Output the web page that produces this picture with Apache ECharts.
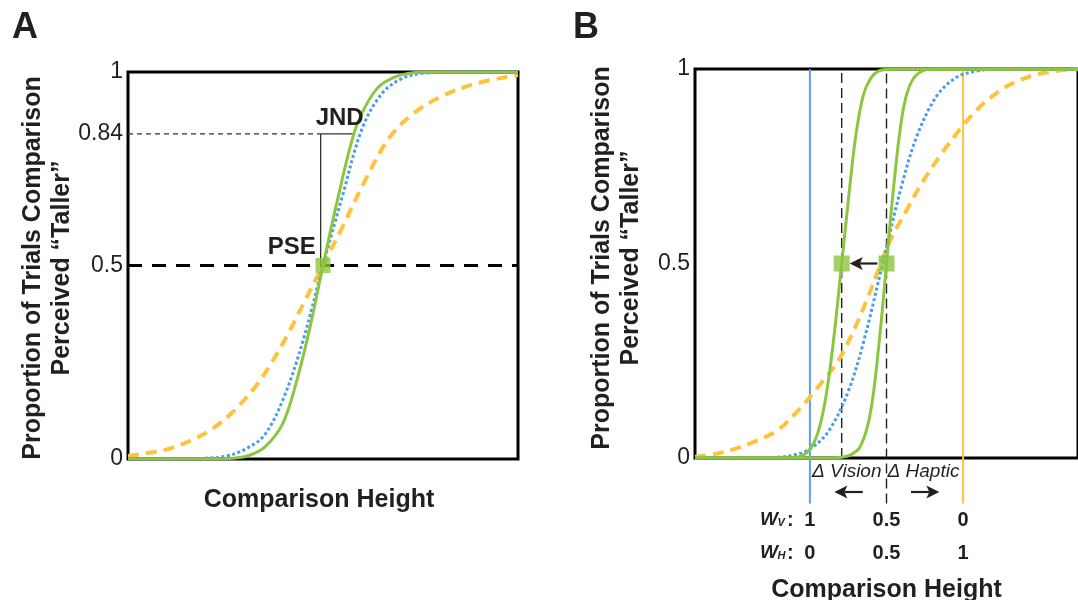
<!DOCTYPE html>
<html>
<head>
<meta charset="utf-8">
<script src="https://cdn.jsdelivr.net/npm/echarts@6/dist/echarts.min.js"></script>
<style>
  html, body { margin: 0; padding: 0; background: #fff; }
  #chart { width: 1078px; height: 600px; }
</style>
</head>
<body>
<div id="chart"></div>
<script>
// ---- Panel A: one comparison, three psychometric functions ----
const aHaptic = [[0,0.008],[0.1,0.025],[0.166,0.05],[0.219,0.08],[0.272,0.125],[0.325,0.185],[0.369,0.25],[0.414,0.33],[0.449,0.4],[0.5,0.5],[0.55,0.6],[0.608,0.72],[0.67,0.83],[0.732,0.893],[0.802,0.936],[0.891,0.97],[1,0.992]];
const aVision = [[0,0],[0.15,0],[0.2,0.002],[0.25,0.007],[0.3,0.025],[0.35,0.062],[0.4,0.16],[0.45,0.31],[0.5,0.5],[0.55,0.68],[0.6,0.853],[0.65,0.943],[0.7,0.982],[0.75,0.996],[0.8,0.999],[0.86,1],[1,1]];
const aCombined = [[0,0],[0.22,0],[0.27,0.002],[0.31,0.009],[0.352,0.032],[0.396,0.09],[0.431,0.196],[0.467,0.342],[0.5,0.5],[0.537,0.669],[0.579,0.84],[0.608,0.91],[0.643,0.962],[0.687,0.988],[0.731,0.998],[0.78,1],[1,1]];
const yTicksA = [0, 0.5, 0.84, 1];
const pseA = [0.5, 0.5];
const jndLevel = 0.84;
const jndBracketX = 0.494;
const jndCurveX = 0.579;

// ---- Panel B: cue weighting shifts the combined estimate ----
const bHaptic = [[0,0.003],[0.05,0.01],[0.1,0.022],[0.165,0.046],[0.217,0.072],[0.27,0.123],[0.322,0.183],[0.375,0.252],[0.42,0.34],[0.45,0.41],[0.485,0.5],[0.515,0.57],[0.557,0.645],[0.591,0.705],[0.642,0.78],[0.68,0.83],[0.697,0.852],[0.744,0.903],[0.79,0.94],[0.829,0.963],[0.888,0.985],[0.957,0.997],[1,1]];
const bVision = [[0,0],[0.15,0],[0.2,0.001],[0.25,0.006],[0.3,0.023],[0.35,0.071],[0.4,0.171],[0.44,0.298],[0.49,0.5],[0.54,0.702],[0.58,0.829],[0.63,0.929],[0.68,0.977],[0.73,0.994],[0.78,0.999],[0.85,1],[1,1]];
const bCombinedShifted = [[0,0],[0.22,0],[0.26,0.001],[0.28,0.006],[0.3,0.022],[0.32,0.062],[0.34,0.147],[0.36,0.288],[0.383,0.5],[0.4,0.66],[0.42,0.83],[0.44,0.935],[0.46,0.978],[0.48,0.995],[0.5,0.999],[0.53,1],[1,1]];
const bCombinedEqual = [[0,0],[0.36,0],[0.39,0.003],[0.41,0.01],[0.43,0.027],[0.45,0.08],[0.465,0.16],[0.48,0.29],[0.49,0.39],[0.5,0.5],[0.51,0.61],[0.52,0.71],[0.535,0.84],[0.55,0.925],[0.57,0.975],[0.6,0.997],[0.63,1],[1,1]];
const yTicksB = [0, 0.5, 1];
const visionOnly = 0.3;
const hapticOnly = 0.7;
const equalWeights = 0.5;
const shiftedPSE = 0.383;
const weightPositions = [0.3, 0.5, 0.7];
const weightVision = ['1', '0.5', '0'];
const weightHaptic = ['0', '0.5', '1'];
const lineFloorB = -0.117;

const GREEN = '#8cc63f';
const BLUE = '#4a9cec';
const ORANGE = '#fdc23e';
const INK = '#231f20';
const FONT = '"Liberation Sans", Arial, sans-serif';

const chart = echarts.init(document.getElementById('chart'), null, { renderer: 'canvas' });

function curve(data, gi, color, width, dash, z) {
  return {
    type: 'line', xAxisIndex: gi, yAxisIndex: gi, data: data,
    symbol: 'none', smooth: 0.35, silent: true, z: z,
    lineStyle: { color: color, width: width, type: dash, cap: 'butt' }
  };
}
function straight(data, gi, color, width, dash, z) {
  return {
    type: 'line', xAxisIndex: gi, yAxisIndex: gi, data: data,
    symbol: 'none', clip: false, silent: true, z: z,
    lineStyle: { color: color, width: width, type: dash, cap: 'butt' }
  };
}
function yAxis(gi, ticks) {
  return {
    gridIndex: gi, type: 'value', min: 0, max: 1,
    axisLine: { show: false }, axisTick: { show: false }, splitLine: { show: false },
    axisLabel: {
      customValues: ticks, formatter: v => String(v),
      fontSize: 23, color: INK, margin: 5, fontFamily: FONT
    }
  };
}
function xAxis(gi) {
  return {
    gridIndex: gi, type: 'value', min: 0, max: 1,
    axisLine: { show: false }, axisTick: { show: false },
    axisLabel: { show: false }, splitLine: { show: false }
  };
}

chart.setOption({
  animation: false,
  backgroundColor: '#fff',
  grid: [
    { left: 128, top: 72, width: 390, height: 387, show: true, borderColor: '#000', borderWidth: 3, backgroundColor: 'transparent' },
    { left: 695, top: 69, width: 392, height: 389, show: true, borderColor: '#000', borderWidth: 3, backgroundColor: 'transparent' }
  ],
  xAxis: [xAxis(0), xAxis(1)],
  yAxis: [yAxis(0, yTicksA), yAxis(1, yTicksB)],
  series: [
    // Panel A reference lines
    straight([[0, 0.5], [1, 0.5]], 0, '#000', 3, [14, 10], 1),
    straight([[0, jndLevel], [jndBracketX, jndLevel]], 0, '#333', 1.2, [5, 4], 1),
    straight([[jndBracketX, pseA[1]], [jndBracketX, jndLevel], [jndCurveX, jndLevel]], 0, '#333', 1.3, 'solid', 1),
    // Panel A curves
    curve(aHaptic, 0, ORANGE, 4, [11, 7], 2),
    curve(aVision, 0, BLUE, 3, [3, 2.5], 3),
    curve(aCombined, 0, GREEN, 3, 'solid', 4),
    {
      type: 'scatter', xAxisIndex: 0, yAxisIndex: 0, data: [pseA],
      symbol: 'rect', symbolSize: 15, itemStyle: { color: GREEN }, silent: true, z: 6
    },
    // Panel B single-cue and weighting reference lines
    straight([[visionOnly, lineFloorB], [visionOnly, 1]], 1, '#5b9fe3', 2, 'solid', 1),
    straight([[hapticOnly, lineFloorB], [hapticOnly, 1]], 1, '#fcc244', 2, 'solid', 1),
    straight([[shiftedPSE, 0], [shiftedPSE, 1]], 1, '#222', 1.4, [10, 5], 1),
    straight([[equalWeights, lineFloorB], [equalWeights, 1]], 1, '#222', 1.4, [10, 5], 1),
    // Panel B curves
    curve(bHaptic, 1, ORANGE, 4, [11, 7], 2),
    curve(bVision, 1, BLUE, 3, [3, 2.5], 3),
    curve(bCombinedShifted, 1, GREEN, 3, 'solid', 4),
    curve(bCombinedEqual, 1, GREEN, 3, 'solid', 4),
    {
      type: 'scatter', xAxisIndex: 1, yAxisIndex: 1, data: [[shiftedPSE, 0.5], [equalWeights, 0.5]],
      symbol: 'rect', symbolSize: 16, itemStyle: { color: GREEN }, silent: true, z: 6
    }
  ]
});

// ---- annotations placed through the axes' own scales ----
function text(x, y, str, font, align, vAlign, extra) {
  return Object.assign({
    type: 'text', x: x, y: y, silent: true, z: 100,
    style: { text: str, font: font, fill: INK, textAlign: align, textVerticalAlign: vAlign }
  }, extra || {});
}
function arrow(x1, y, x2) {
  const dir = Math.sign(x2 - x1);
  const L = 13, H = 6.5, notch = 3;
  return [
    { type: 'line', silent: true, z: 100, shape: { x1: x1, y1: y, x2: x2 - dir * (L - notch), y2: y }, style: { stroke: INK, lineWidth: 2.2 } },
    { type: 'polygon', silent: true, z: 100, shape: { points: [[x2, y], [x2 - dir * L, y - H], [x2 - dir * (L - notch), y], [x2 - dir * L, y + H]] }, style: { fill: INK } }
  ];
}

const pA = (v, p) => chart.convertToPixel({ gridIndex: 0 }, [v, p]);
const pB = (v, p) => chart.convertToPixel({ gridIndex: 1 }, [v, p]);

const g = [];
const bold = s => 'bold ' + s + 'px ' + FONT;

// panel letters
g.push(text(12, 28, 'A', bold(36), 'left', 'middle'));
g.push(text(573, 28, 'B', bold(36), 'left', 'middle'));

// axis titles
const yTitle = 'Proportion of Trials Comparison\nPerceived \u201cTaller\u201d';
function yTitleAt(x, y) {
  return {
    type: 'text', x: x, y: y, rotation: Math.PI / 2, silent: true, z: 100,
    style: { text: yTitle, font: bold(25), fill: INK, textAlign: 'center', textVerticalAlign: 'middle', lineHeight: 29 }
  };
}
g.push(yTitleAt(48, 268));
g.push(yTitleAt(617, 258));
g.push(text(pA(0.5, 0)[0] - 4, pA(0.5, 0)[1] + 41, 'Comparison Height', bold(25), 'center', 'middle'));

// JND / PSE labels
const jnd = pA(jndBracketX, jndLevel);
g.push(text(jnd[0] - 5, jnd[1] - 16, 'JND', bold(24), 'left', 'middle'));
const pse = pA(jndBracketX, pseA[1]);
g.push(text(pse[0] - 5, pse[1] - 18, 'PSE', bold(24), 'right', 'middle'));

// panel B: shift arrow between the two PSEs
const sqFrom = pB(0.476, 0.5), sqTo = pB(0.404, 0.5);
g.push(...arrow(sqFrom[0], sqFrom[1], sqTo[0]));

// panel B: labels under the axis
const base = pB(equalWeights, 0);
const axisY = base[1];
g.push(text(base[0] - 5, axisY + 14, '\u0394 Vision', 'italic 19px ' + FONT, 'right', 'middle'));
g.push(text(base[0] + 1, axisY + 14, '\u0394 Haptic', 'italic 19px ' + FONT, 'left', 'middle'));
const av1 = pB(0.438, 0), av2 = pB(0.364, 0);
g.push(...arrow(av1[0], axisY + 34, av2[0]));
const ah1 = pB(0.564, 0), ah2 = pB(0.638, 0);
g.push(...arrow(ah1[0], axisY + 34, ah2[0]));

// cue weights rows
const rows = [[weightVision, 'V', 62], [weightHaptic, 'H', 95]];
const bx = pB(weightPositions[0], 0)[0];
rows.forEach(function (row) {
  const y = axisY + row[2];
  g.push(text(bx - 50, y, 'W', 'italic bold 19px ' + FONT, 'left', 'middle'));
  g.push(text(bx - 32.5, y + 3, row[1], 'italic bold 11px ' + FONT, 'left', 'middle'));
  g.push(text(bx - 23, y, ':', bold(20), 'left', 'middle'));
  row[0].forEach(function (lab, i) {
    const x = pB(weightPositions[i], 0)[0];
    g.push(text(x, y, lab, bold(20), 'center', 'middle'));
  });
});
g.push(text(base[0], axisY + 132, 'Comparison Height', bold(25), 'center', 'middle'));

chart.setOption({ graphic: { elements: g } });
</script>
</body>
</html>
